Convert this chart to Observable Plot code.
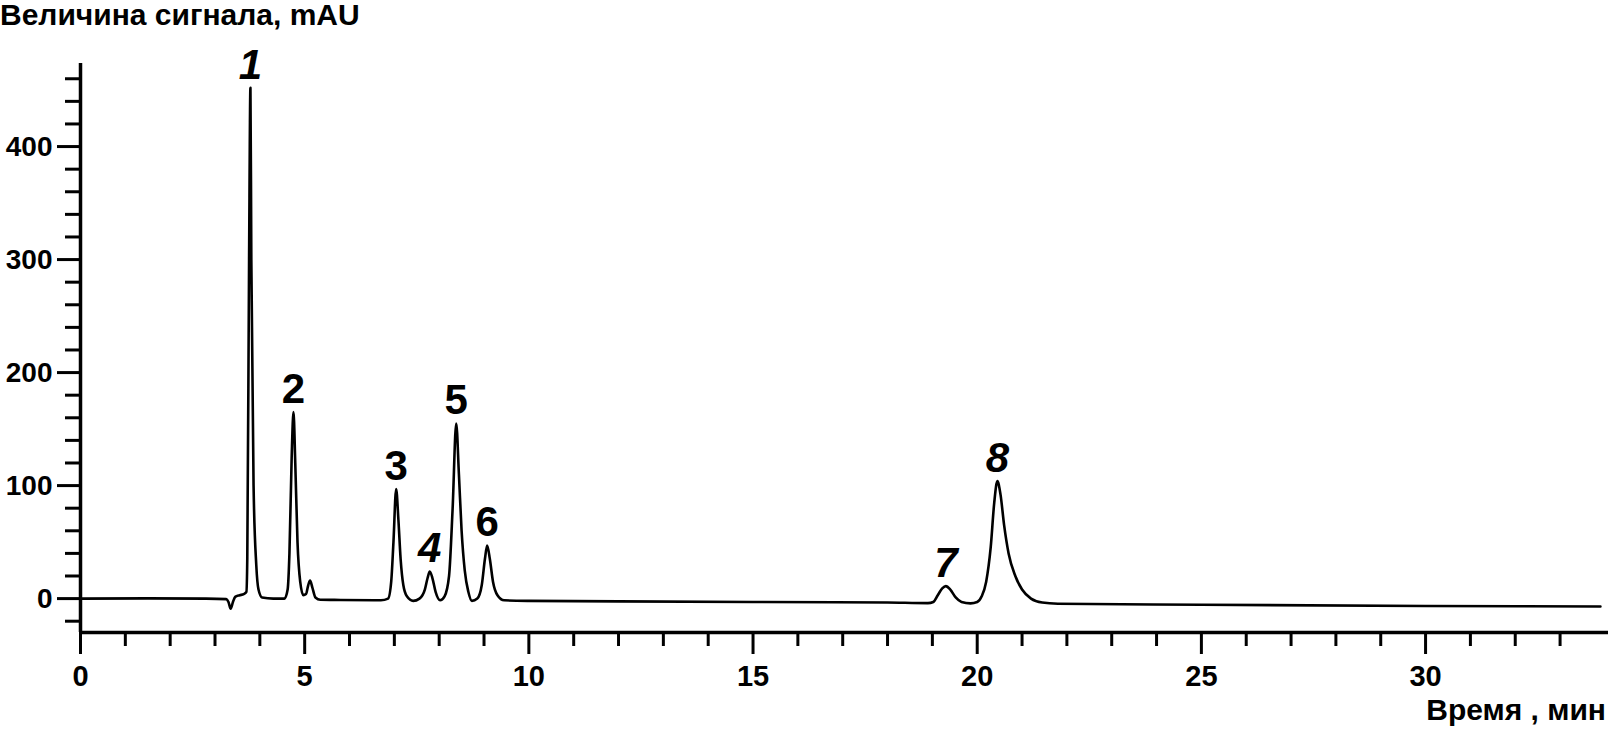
<!DOCTYPE html>
<html>
<head>
<meta charset="utf-8">
<script src="https://cdn.jsdelivr.net/npm/d3@7"></script>
<script src="https://cdn.jsdelivr.net/npm/@observablehq/plot@0.6"></script>
<style>
  html, body { margin: 0; padding: 0; background: #fff; overflow: hidden; }
  #wrap { position: relative; width: 1608px; height: 729px; }
  .lbl { position: absolute; font-family: "Liberation Sans", Arial, sans-serif; font-weight: bold; font-size: 30px; line-height: 1; white-space: nowrap; color: #000; }
  svg { display: block; }
</style>
</head>
<body>
<div id="wrap">
  <div id="chart"></div>
  <div class="lbl" id="ytitle" style="left:0px; top:0px;">Величина сигнала, mAU</div>
  <div class="lbl" id="xtitle" style="right:2px; top:695px;">Время , мин</div>
</div>
<script>
// Chromatogram trace (time, min / signal, mAU)
const times = [0, 1.5, 2.8, 3.25, 3.3, 3.35, 3.4, 3.45, 3.55, 3.64, 3.7, 3.72, 3.76, 3.79, 3.81, 3.86, 3.92, 3.97, 4.05, 4.3,
  4.55, 4.62, 4.66, 4.71, 4.75, 4.79, 4.84, 4.9, 4.97, 5.03, 5.08, 5.12, 5.17, 5.24, 5.35, 5.8,
  6.7, 6.86, 6.93, 6.98, 7.04, 7.09, 7.14, 7.2, 7.28, 7.42,
  7.56, 7.68, 7.74, 7.79, 7.85, 7.92, 8.02,
  8.12, 8.22, 8.3, 8.38, 8.44, 8.5, 8.57, 8.65, 8.73,
  8.85, 8.95, 9.02, 9.07, 9.13, 9.2, 9.3, 9.45,
  10, 12, 15, 18, 18.9, 19.02, 19.12, 19.22, 19.3, 19.4, 19.52, 19.65, 19.85,
  20.0, 20.1, 20.2, 20.3, 20.38, 20.45, 20.52, 20.6, 20.7, 20.85, 21.0, 21.2, 21.45, 21.8, 25, 30, 33.9];
const signal = [0, 0.2, 0, -0.5, -3, -9, -3, 1.5, 3, 4, 6, 36, 300, 452, 300, 100, 30, 8, 1, 0,
  0, 8, 40, 125, 165, 120, 50, 15, 3, 4, 12, 16, 10, 1, -1, -1.2,
  -1.5, 0, 15, 50, 97, 70, 35, 12, 2, -2,
  0, 8, 18, 24, 18, 6, -1.5,
  2, 20, 80, 155, 110, 60, 25, 6, -2,
  0, 12, 35, 47, 35, 15, 3, -1.5,
  -2, -2.5, -3, -3.5, -4, -3, 3, 9, 11, 8, 1, -3, -4.2,
  -3, 2, 15, 45, 85, 104, 92, 65, 40, 20, 8, 0, -3.5, -4.5, -5.5, -6.5, -7];

// Peak numbers and their apex positions
const peakLabels = ["1", "2", "3", "4", "5", "6", "7", "8"];
const peakTimes = [3.79, 4.75, 7.04, 7.79, 8.38, 9.07, 19.3, 20.45];
const peakHeights = [452, 165, 97, 24, 155, 47, 11, 104];

// Axis ticks
const xMajorTicks = [0, 5, 10, 15, 20, 25, 30];
const xMinorTicks = [1, 2, 3, 4, 6, 7, 8, 9, 11, 12, 13, 14, 16, 17, 18, 19, 21, 22, 23, 24, 26, 27, 28, 29, 31, 32, 33];
const yMajorTicks = [0, 100, 200, 300, 400];
const yMinorTicks = [-20, 20, 40, 60, 80, 120, 140, 160, 180, 220, 240, 260, 280, 320, 340, 360, 380, 420, 440, 460];

const trace = times.map((t, i) => ({t, v: signal[i]}));
const peaks = peakLabels.map((l, i) => ({label: l, t: peakTimes[i], v: peakHeights[i]}));

const X0 = 0, X1 = 34.08, Y0 = -30, Y1 = 473.5;
const font = "Liberation Sans, Arial, sans-serif";

const chart = Plot.plot({
  width: 1608,
  height: 729,
  marginLeft: 80,
  marginRight: 0,
  marginTop: 63,
  marginBottom: 97,
  style: {fontFamily: font, color: "#000", background: "#fff", overflow: "visible"},
  x: {domain: [X0, X1], label: null},
  y: {domain: [Y0, Y1], label: null},
  marks: [
    Plot.ruleX([X0], {y1: Y0, y2: Y1, stroke: "#000", strokeWidth: 3.5}),
    Plot.ruleY([Y0], {stroke: "#000", strokeWidth: 3.5}),
    Plot.axisY({ticks: yMinorTicks, tickSize: 15, text: null, stroke: "#000", strokeWidth: 3}),
    Plot.axisY({ticks: yMajorTicks, tickSize: 23, tickPadding: 5, fontSize: 28, fontWeight: "bold", stroke: "#000", strokeWidth: 3, fill: "#000", label: null}),
    Plot.axisX({ticks: xMinorTicks, tickSize: 14, text: null, stroke: "#000", strokeWidth: 3}),
    Plot.axisX({ticks: xMajorTicks, tickSize: 22, tickPadding: 11, fontSize: 29, fontWeight: "bold", stroke: "#000", strokeWidth: 3, fill: "#000", label: null}),
    Plot.line(trace, {x: "t", y: "v", curve: "monotone-x", stroke: "#000", strokeWidth: 2.6}),
    Plot.text(peaks.filter(d => ["1", "4", "7", "8"].includes(d.label)), {x: "t", y: "v", text: "label", lineAnchor: "bottom", dy: -9, fontSize: 42, fontStyle: "italic", fontWeight: "bold", fill: "#000"}),
    Plot.text(peaks.filter(d => !["1", "4", "7", "8"].includes(d.label)), {x: "t", y: "v", text: "label", lineAnchor: "bottom", dy: -9, fontSize: 42, fontWeight: "bold", fill: "#000"})
  ]
});
document.getElementById("chart").appendChild(chart);
</script>
</body>
</html>
